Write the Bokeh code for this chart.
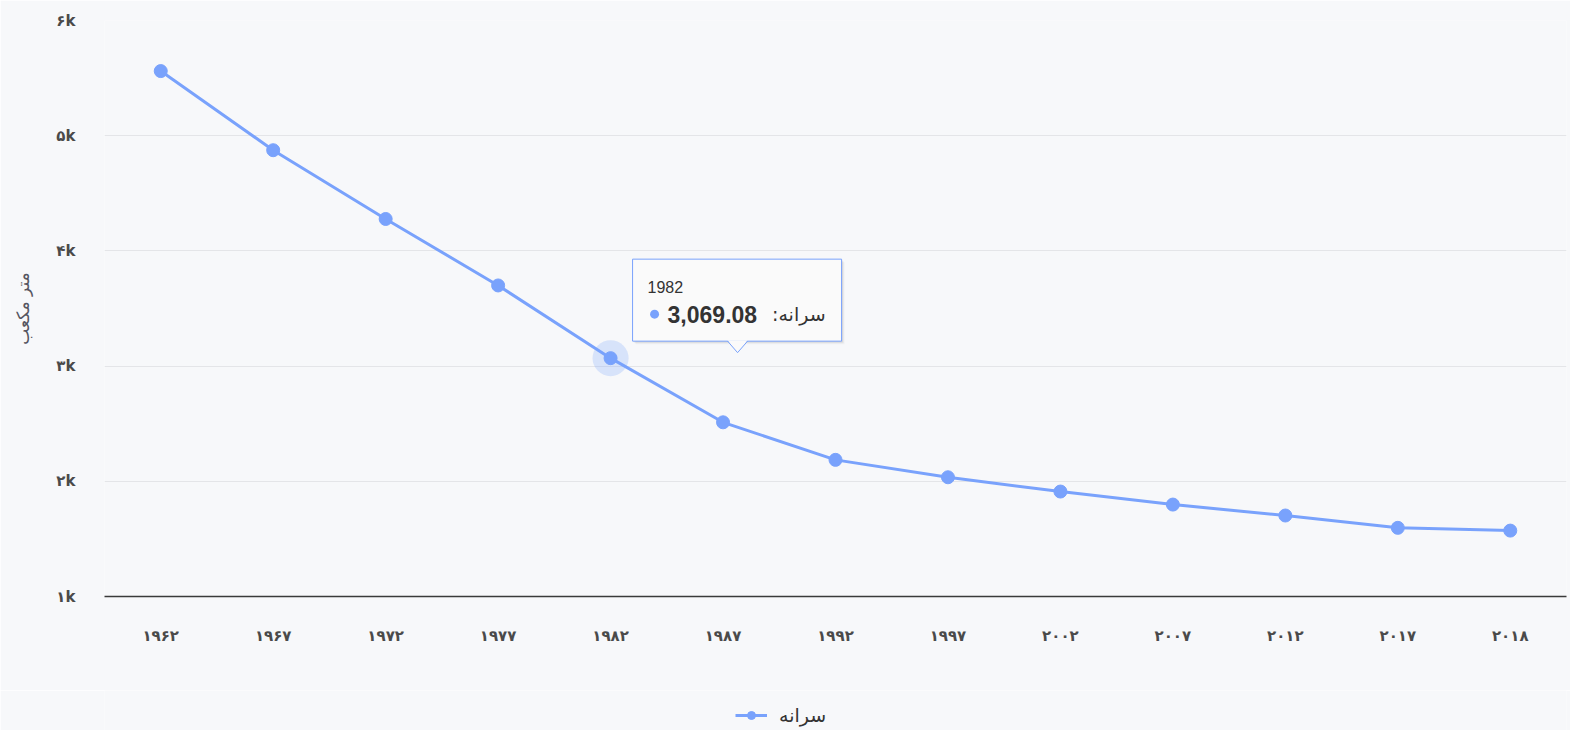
from bokeh.plotting import figure
from bokeh.layouts import column
from bokeh.models import Range1d, FixedTicker, Legend, LegendItem
from bokeh.embed import file_html
from bokeh.resources import INLINE
from bokeh.core.properties import value

# ---------------- data ----------------
years = ["1962", "1967", "1972", "1977", "1982", "1987", "1992",
         "1997", "2002", "2007", "2012", "2017", "2018"]
year_labels = ["۱۹۶۲", "۱۹۶۷", "۱۹۷۲", "۱۹۷۷", "۱۹۸۲", "۱۹۸۷", "۱۹۹۲",
               "۱۹۹۷", "۲۰۰۲", "۲۰۰۷", "۲۰۱۲", "۲۰۱۷", "۲۰۱۸"]
per_capita = [5561, 4874, 4277, 3700, 3069.08, 2512, 2186,
              2035, 1911, 1798, 1703, 1596, 1572]
y_ticks = [1000, 2000, 3000, 4000, 5000, 6000]
y_tick_labels = ["۱k", "۲k", "۳k", "۴k", "۵k", "۶k"]
series_name = "سرانه"
y_title = "متر مکعب"
tooltip_year = "1982"

# ---------------- style ----------------
BG = "#f7f8fa"
LINE = "#79a2fc"
TXT = "#4a4a4a"
W = 1570
FW, FH = 1462, 576
Y0, Y1 = 1000, 6000

xs = list(range(len(years)))
p = figure(width=W, height=690, frame_width=FW, frame_height=FH,
           min_border_left=104, min_border_right=4, min_border_top=20, min_border_bottom=94,
           x_range=Range1d(-0.5, len(years) - 0.5), y_range=Range1d(Y0, Y1),
           output_backend="svg", toolbar_location=None,
           background_fill_color=BG, border_fill_color=BG, outline_line_color=None)

# axes
p.xaxis.ticker = FixedTicker(ticks=xs)
p.xaxis.major_label_overrides = {i: lab for i, lab in zip(xs, year_labels)}
p.xaxis.major_tick_line_color = None
p.xaxis.minor_tick_line_color = None
p.xaxis.major_tick_out = 0
p.xaxis.major_label_standoff = 30
p.xaxis.axis_line_color = "#3a3a3a"
p.xaxis.axis_line_width = 1.5
p.xaxis.major_label_text_font = "DejaVu Sans"
p.xaxis.major_label_text_font_size = "15px"
p.xaxis.major_label_text_font_style = "bold"
p.xaxis.major_label_text_color = TXT

p.yaxis.ticker = FixedTicker(ticks=y_ticks)
p.yaxis.major_label_overrides = {t: lab for t, lab in zip(y_ticks, y_tick_labels)}
p.yaxis.axis_line_color = None
p.yaxis.major_tick_line_color = None
p.yaxis.minor_tick_line_color = None
p.yaxis.major_tick_out = 0
p.yaxis.major_label_standoff = 29
p.yaxis.major_label_text_font = "DejaVu Sans"
p.yaxis.major_label_text_font_size = "15px"
p.yaxis.major_label_text_font_style = "bold"
p.yaxis.major_label_text_color = TXT
p.yaxis.axis_label = y_title
p.yaxis.axis_label_text_font = "DejaVu Sans"
p.yaxis.axis_label_text_font_size = "17px"
p.yaxis.axis_label_text_font_style = "normal"
p.yaxis.axis_label_text_color = "#555560"
p.yaxis.axis_label_standoff = 20

p.xgrid.grid_line_color = None
p.ygrid.grid_line_color = "#e4e5e8"
p.ygrid.grid_line_width = 1

# series
p.line(xs, per_capita, line_color=LINE, line_width=3)
p.scatter(xs, per_capita, size=13, fill_color=LINE, line_color=LINE)

# hover halo + tooltip anchored to the 1982 point
i0 = years.index(tooltip_year)
px, py = xs[i0], per_capita[i0]
ux = len(years) / FW      # data units per screen px (x)
uy = (Y1 - Y0) / FH       # data units per screen px (y)

def X(dx):
    return px + dx * ux

def Y(dy):  # dy positive = downward on screen
    return py - dy * uy

p.scatter([px], [py], size=36, fill_color=LINE, fill_alpha=0.25, line_color=None)

for k, a in [(3, 0.03), (2, 0.05), (1, 0.08)]:
    p.quad(left=[X(22 + k)], right=[X(231 + k)], top=[Y(-99 + k)], bottom=[Y(-17 + k)],
           fill_color="black", fill_alpha=a, line_color=None)
p.quad(left=[X(22)], right=[X(231)], top=[Y(-99)], bottom=[Y(-17)],
       fill_color="#fafafa", line_color=LINE, line_width=1)
p.patch([X(117), X(127), X(137)], [Y(-17.8), Y(-5.5), Y(-17.8)],
        fill_color="#fafafa", line_color=None)
p.line([X(117), X(127), X(137)], [Y(-17), Y(-5.5), Y(-17)], line_color=LINE, line_width=1)

p.text([X(37)], [Y(-71.5)], text=[tooltip_year], text_align="left", text_baseline="middle",
       text_font=value("Liberation Sans"), text_font_size="16px", text_color="#333333")
p.scatter([X(44)], [Y(-44)], size=9, fill_color=LINE, line_color=None)
p.text([X(57)], [Y(-44)], text=[f"{per_capita[i0]:,.2f}"], text_align="left",
       text_baseline="middle", text_font=value("Liberation Sans"), text_font_size="23px",
       text_font_style="bold", text_color="#333333")
p.text([X(215)], [Y(-44)], text=[series_name + ":\u200f"], text_align="right",
       text_baseline="middle", text_font=value("DejaVu Sans"), text_font_size="19px",
       text_color="#333333")

# legend strip (separate small figure below the chart)
lg = figure(width=W, height=40, min_border=0, x_range=Range1d(0, 1), y_range=Range1d(0, 1),
            x_axis_location=None, y_axis_location=None,
            output_backend="svg", toolbar_location=None,
            background_fill_color=BG, border_fill_color=BG, outline_line_color=None)
lg.xgrid.grid_line_color = None
lg.ygrid.grid_line_color = None
# off-range points: only their legend glyphs show
l2 = lg.line(x=[5, 6], y=[5, 6], line_color=LINE, line_width=3)
s2 = lg.scatter(x=[5], y=[5], size=13, fill_color=LINE, line_color=LINE)
legend = Legend(items=[LegendItem(label=series_name, renderers=[l2, s2])],
                location=(631, 4), orientation="horizontal",
                background_fill_alpha=0, border_line_color=None,
                padding=0, margin=0, glyph_width=32, glyph_height=20,
                label_standoff=12, label_height=20,
                label_text_font="DejaVu Sans", label_text_font_size="19px",
                label_text_color="#333333")
lg.add_layout(legend, "center")

open("out.html", "w", encoding="utf-8").write(file_html(column(p, lg, spacing=0), INLINE))
